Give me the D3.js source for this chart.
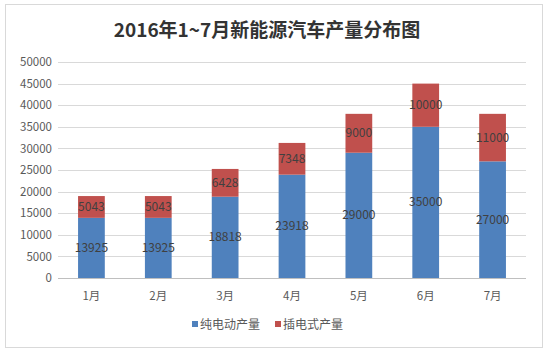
<!DOCTYPE html>
<html><head><meta charset="utf-8">
<script src="https://cdn.jsdelivr.net/npm/d3@7"></script>
<style>body{margin:0;background:#fff}</style>
</head><body><svg id="c" width="549" height="352"></svg>
<script>
const categories = ["1月","2月","3月","4月","5月","6月","7月"];
const seriesNames = ["纯电动产量","插电式产量"];
const pureEV = [13925,13925,18818,23918,29000,35000,27000];
const plugIn = [5043,5043,6428,7348,9000,10000,11000];
const yTicks = [0,5000,10000,15000,20000,25000,30000,35000,40000,45000,50000];
const colors = ["#4f81bd","#c0504d"];

const svg = d3.select("#c");
const font = "'Noto Sans CJK SC','Noto Sans',sans-serif";
svg.append("rect").attr("x",5.5).attr("y",4.5).attr("width",537).attr("height",343)
  .attr("fill","#fff").attr("stroke","#d9d9d9");
svg.append("text").attr("x",267).attr("y",37).attr("text-anchor","middle")
  .attr("font-family",font).attr("font-weight","bold").attr("font-size",19).attr("fill","#333")
  .text("2016年1~7月新能源汽车产量分布图");

const x0=58, x1=526, yTop=62, yBot=278;
const x = d3.scaleBand().domain(categories).range([x0,x1]).paddingInner(0.6).paddingOuter(0.3);
const y = d3.scaleLinear().domain([0,50000]).range([yBot,yTop]);

const g = svg.append("g");
g.selectAll("line.grid").data(yTicks).join("line")
  .attr("x1",x0).attr("x2",x1).attr("y1",d=>Math.round(y(d))+0.5).attr("y2",d=>Math.round(y(d))+0.5)
  .attr("stroke",d=>d===0?"#bfbfbf":"#d9d9d9").attr("stroke-width",1);

const yAxis = d3.axisLeft(y).tickValues(yTicks).tickSize(0).tickPadding(6).tickFormat(d3.format("d"));
const ya = svg.append("g").attr("transform",`translate(${x0},0)`).call(yAxis);
ya.select(".domain").remove();
ya.selectAll("text").attr("font-family",font).attr("font-size",11.5).attr("fill","#595959");

const xAxis = d3.axisBottom(x).tickSize(0).tickPadding(14);
const xa = svg.append("g").attr("transform",`translate(0,${yBot})`).call(xAxis);
xa.select(".domain").remove();
xa.selectAll("text").attr("font-family",font).attr("font-size",11.5).attr("fill","#595959");

const rows = categories.map((c,i)=>({cat:c, a:pureEV[i], b:plugIn[i]}));
const stack = d3.stack().keys(["a","b"])(rows);
stack.forEach((s,si)=>{
  const gg = svg.append("g");
  gg.selectAll("rect").data(s).join("rect")
    .attr("x",d=>x(d.data.cat)).attr("width",x.bandwidth())
    .attr("y",d=>y(d[1])).attr("height",d=>y(d[0])-y(d[1]))
    .attr("fill",colors[si]);
  gg.selectAll("text").data(s).join("text")
    .attr("x",d=>x(d.data.cat)+x.bandwidth()/2)
    .attr("y",d=>(y(d[0])+y(d[1]))/2+4)
    .attr("text-anchor","middle").attr("font-family",font).attr("font-size",12)
    .attr("fill","#404040")
    .text(d=>d[1]-d[0]);
});

const lg = svg.append("g");
const lx = [192, 275];
seriesNames.forEach((n,i)=>{
  lg.append("rect").attr("x",lx[i]).attr("y",321).attr("width",6).attr("height",6).attr("fill",colors[i]);
  lg.append("text").attr("x",lx[i]+8).attr("y",329).attr("font-family",font).attr("font-size",12)
    .attr("fill","#595959").text(n);
});
</script></body></html>
